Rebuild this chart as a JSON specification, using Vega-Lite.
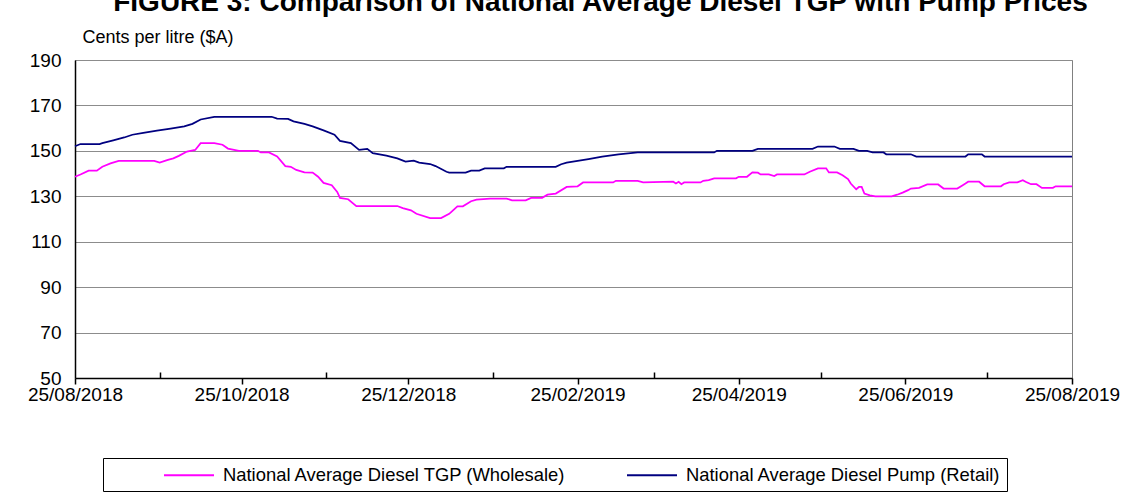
{
  "$schema": "https://vega.github.io/schema/vega-lite/v6.json",
  "width": 997,
  "height": 318,
  "autosize": {"type": "none"},
  "padding": {"left": 75, "top": 60, "right": 59, "bottom": 124},
  "background": "white",
  "config": {
    "view": {"stroke": "#808080", "strokeWidth": 1},
    "font": "Liberation Sans"
  },
  "title": {
    "text": "FIGURE 3: Comparison of National Average Diesel TGP with Pump Prices",
    "font": "Liberation Sans",
    "fontSize": 28,
    "fontWeight": "bold",
    "color": "black",
    "anchor": "middle",
    "frame": "group",
    "baseline": "alphabetic",
    "offset": 4,
    "dx": 27,
    "dy": 15
  },
  "datasets": {
    "prices": [
      {"date": "2018-08-25", "series": "National Average Diesel Pump (Retail)", "price": 152},
      {"date": "2018-08-27", "series": "National Average Diesel Pump (Retail)", "price": 153},
      {"date": "2018-09-03", "series": "National Average Diesel Pump (Retail)", "price": 153},
      {"date": "2018-09-04", "series": "National Average Diesel Pump (Retail)", "price": 153.4},
      {"date": "2018-09-08", "series": "National Average Diesel Pump (Retail)", "price": 154.6},
      {"date": "2018-09-12", "series": "National Average Diesel Pump (Retail)", "price": 155.9},
      {"date": "2018-09-15", "series": "National Average Diesel Pump (Retail)", "price": 157.1},
      {"date": "2018-09-19", "series": "National Average Diesel Pump (Retail)", "price": 157.9},
      {"date": "2018-09-24", "series": "National Average Diesel Pump (Retail)", "price": 158.9},
      {"date": "2018-09-29", "series": "National Average Diesel Pump (Retail)", "price": 159.8},
      {"date": "2018-10-04", "series": "National Average Diesel Pump (Retail)", "price": 160.8},
      {"date": "2018-10-07", "series": "National Average Diesel Pump (Retail)", "price": 161.9},
      {"date": "2018-10-10", "series": "National Average Diesel Pump (Retail)", "price": 163.8},
      {"date": "2018-10-15", "series": "National Average Diesel Pump (Retail)", "price": 165},
      {"date": "2018-11-05", "series": "National Average Diesel Pump (Retail)", "price": 165},
      {"date": "2018-11-07", "series": "National Average Diesel Pump (Retail)", "price": 164.2},
      {"date": "2018-11-11", "series": "National Average Diesel Pump (Retail)", "price": 164.1},
      {"date": "2018-11-13", "series": "National Average Diesel Pump (Retail)", "price": 163},
      {"date": "2018-11-17", "series": "National Average Diesel Pump (Retail)", "price": 161.9},
      {"date": "2018-11-20", "series": "National Average Diesel Pump (Retail)", "price": 160.8},
      {"date": "2018-11-24", "series": "National Average Diesel Pump (Retail)", "price": 159},
      {"date": "2018-11-28", "series": "National Average Diesel Pump (Retail)", "price": 157.1},
      {"date": "2018-11-30", "series": "National Average Diesel Pump (Retail)", "price": 154.4},
      {"date": "2018-12-04", "series": "National Average Diesel Pump (Retail)", "price": 153.4},
      {"date": "2018-12-07", "series": "National Average Diesel Pump (Retail)", "price": 150.4},
      {"date": "2018-12-10", "series": "National Average Diesel Pump (Retail)", "price": 150.9},
      {"date": "2018-12-12", "series": "National Average Diesel Pump (Retail)", "price": 149},
      {"date": "2018-12-17", "series": "National Average Diesel Pump (Retail)", "price": 147.9},
      {"date": "2018-12-21", "series": "National Average Diesel Pump (Retail)", "price": 146.7},
      {"date": "2018-12-24", "series": "National Average Diesel Pump (Retail)", "price": 145.3},
      {"date": "2018-12-27", "series": "National Average Diesel Pump (Retail)", "price": 145.7},
      {"date": "2018-12-29", "series": "National Average Diesel Pump (Retail)", "price": 144.8},
      {"date": "2019-01-02", "series": "National Average Diesel Pump (Retail)", "price": 144.2},
      {"date": "2019-01-04", "series": "National Average Diesel Pump (Retail)", "price": 143.3},
      {"date": "2019-01-08", "series": "National Average Diesel Pump (Retail)", "price": 140.8},
      {"date": "2019-01-09", "series": "National Average Diesel Pump (Retail)", "price": 140.4},
      {"date": "2019-01-15", "series": "National Average Diesel Pump (Retail)", "price": 140.4},
      {"date": "2019-01-17", "series": "National Average Diesel Pump (Retail)", "price": 141.3},
      {"date": "2019-01-20", "series": "National Average Diesel Pump (Retail)", "price": 141.3},
      {"date": "2019-01-22", "series": "National Average Diesel Pump (Retail)", "price": 142.3},
      {"date": "2019-01-29", "series": "National Average Diesel Pump (Retail)", "price": 142.3},
      {"date": "2019-01-30", "series": "National Average Diesel Pump (Retail)", "price": 143},
      {"date": "2019-02-17", "series": "National Average Diesel Pump (Retail)", "price": 143},
      {"date": "2019-02-19", "series": "National Average Diesel Pump (Retail)", "price": 144.1},
      {"date": "2019-02-21", "series": "National Average Diesel Pump (Retail)", "price": 144.8},
      {"date": "2019-02-25", "series": "National Average Diesel Pump (Retail)", "price": 145.6},
      {"date": "2019-03-01", "series": "National Average Diesel Pump (Retail)", "price": 146.4},
      {"date": "2019-03-06", "series": "National Average Diesel Pump (Retail)", "price": 147.5},
      {"date": "2019-03-12", "series": "National Average Diesel Pump (Retail)", "price": 148.5},
      {"date": "2019-03-19", "series": "National Average Diesel Pump (Retail)", "price": 149.3},
      {"date": "2019-04-16", "series": "National Average Diesel Pump (Retail)", "price": 149.3},
      {"date": "2019-04-17", "series": "National Average Diesel Pump (Retail)", "price": 150},
      {"date": "2019-04-30", "series": "National Average Diesel Pump (Retail)", "price": 150},
      {"date": "2019-05-02", "series": "National Average Diesel Pump (Retail)", "price": 150.9},
      {"date": "2019-05-22", "series": "National Average Diesel Pump (Retail)", "price": 150.9},
      {"date": "2019-05-24", "series": "National Average Diesel Pump (Retail)", "price": 151.9},
      {"date": "2019-05-30", "series": "National Average Diesel Pump (Retail)", "price": 151.9},
      {"date": "2019-06-01", "series": "National Average Diesel Pump (Retail)", "price": 150.9},
      {"date": "2019-06-06", "series": "National Average Diesel Pump (Retail)", "price": 150.9},
      {"date": "2019-06-08", "series": "National Average Diesel Pump (Retail)", "price": 150},
      {"date": "2019-06-11", "series": "National Average Diesel Pump (Retail)", "price": 150},
      {"date": "2019-06-13", "series": "National Average Diesel Pump (Retail)", "price": 149.3},
      {"date": "2019-06-17", "series": "National Average Diesel Pump (Retail)", "price": 149.3},
      {"date": "2019-06-18", "series": "National Average Diesel Pump (Retail)", "price": 148.5},
      {"date": "2019-06-27", "series": "National Average Diesel Pump (Retail)", "price": 148.5},
      {"date": "2019-06-29", "series": "National Average Diesel Pump (Retail)", "price": 147.5},
      {"date": "2019-07-17", "series": "National Average Diesel Pump (Retail)", "price": 147.5},
      {"date": "2019-07-18", "series": "National Average Diesel Pump (Retail)", "price": 148.5},
      {"date": "2019-07-23", "series": "National Average Diesel Pump (Retail)", "price": 148.5},
      {"date": "2019-07-24", "series": "National Average Diesel Pump (Retail)", "price": 147.5},
      {"date": "2019-08-25", "series": "National Average Diesel Pump (Retail)", "price": 147.5},
      {"date": "2018-08-25", "series": "National Average Diesel TGP (Wholesale)", "price": 138.6},
      {"date": "2018-08-27", "series": "National Average Diesel TGP (Wholesale)", "price": 139.6},
      {"date": "2018-08-30", "series": "National Average Diesel TGP (Wholesale)", "price": 141.3},
      {"date": "2018-09-02", "series": "National Average Diesel TGP (Wholesale)", "price": 141.3},
      {"date": "2018-09-04", "series": "National Average Diesel TGP (Wholesale)", "price": 143},
      {"date": "2018-09-07", "series": "National Average Diesel TGP (Wholesale)", "price": 144.5},
      {"date": "2018-09-10", "series": "National Average Diesel TGP (Wholesale)", "price": 145.6},
      {"date": "2018-09-23", "series": "National Average Diesel TGP (Wholesale)", "price": 145.6},
      {"date": "2018-09-25", "series": "National Average Diesel TGP (Wholesale)", "price": 144.8},
      {"date": "2018-09-28", "series": "National Average Diesel TGP (Wholesale)", "price": 146},
      {"date": "2018-09-30", "series": "National Average Diesel TGP (Wholesale)", "price": 146.7},
      {"date": "2018-10-02", "series": "National Average Diesel TGP (Wholesale)", "price": 147.8},
      {"date": "2018-10-05", "series": "National Average Diesel TGP (Wholesale)", "price": 149.7},
      {"date": "2018-10-08", "series": "National Average Diesel TGP (Wholesale)", "price": 150.4},
      {"date": "2018-10-10", "series": "National Average Diesel TGP (Wholesale)", "price": 153.4},
      {"date": "2018-10-15", "series": "National Average Diesel TGP (Wholesale)", "price": 153.4},
      {"date": "2018-10-18", "series": "National Average Diesel TGP (Wholesale)", "price": 152.7},
      {"date": "2018-10-20", "series": "National Average Diesel TGP (Wholesale)", "price": 151},
      {"date": "2018-10-24", "series": "National Average Diesel TGP (Wholesale)", "price": 150},
      {"date": "2018-10-31", "series": "National Average Diesel TGP (Wholesale)", "price": 150},
      {"date": "2018-11-01", "series": "National Average Diesel TGP (Wholesale)", "price": 149.3},
      {"date": "2018-11-04", "series": "National Average Diesel TGP (Wholesale)", "price": 149.3},
      {"date": "2018-11-07", "series": "National Average Diesel TGP (Wholesale)", "price": 147.5},
      {"date": "2018-11-10", "series": "National Average Diesel TGP (Wholesale)", "price": 143.3},
      {"date": "2018-11-12", "series": "National Average Diesel TGP (Wholesale)", "price": 143},
      {"date": "2018-11-14", "series": "National Average Diesel TGP (Wholesale)", "price": 141.6},
      {"date": "2018-11-17", "series": "National Average Diesel TGP (Wholesale)", "price": 140.5},
      {"date": "2018-11-20", "series": "National Average Diesel TGP (Wholesale)", "price": 140.4},
      {"date": "2018-11-22", "series": "National Average Diesel TGP (Wholesale)", "price": 138.6},
      {"date": "2018-11-24", "series": "National Average Diesel TGP (Wholesale)", "price": 135.9},
      {"date": "2018-11-27", "series": "National Average Diesel TGP (Wholesale)", "price": 134.9},
      {"date": "2018-11-29", "series": "National Average Diesel TGP (Wholesale)", "price": 131.9},
      {"date": "2018-11-30", "series": "National Average Diesel TGP (Wholesale)", "price": 129.3},
      {"date": "2018-12-03", "series": "National Average Diesel TGP (Wholesale)", "price": 128.7},
      {"date": "2018-12-06", "series": "National Average Diesel TGP (Wholesale)", "price": 125.7},
      {"date": "2018-12-21", "series": "National Average Diesel TGP (Wholesale)", "price": 125.7},
      {"date": "2018-12-23", "series": "National Average Diesel TGP (Wholesale)", "price": 124.8},
      {"date": "2018-12-26", "series": "National Average Diesel TGP (Wholesale)", "price": 123.8},
      {"date": "2018-12-28", "series": "National Average Diesel TGP (Wholesale)", "price": 122.3},
      {"date": "2019-01-02", "series": "National Average Diesel TGP (Wholesale)", "price": 120.4},
      {"date": "2019-01-06", "series": "National Average Diesel TGP (Wholesale)", "price": 120.4},
      {"date": "2019-01-09", "series": "National Average Diesel TGP (Wholesale)", "price": 122.3},
      {"date": "2019-01-12", "series": "National Average Diesel TGP (Wholesale)", "price": 125.6},
      {"date": "2019-01-14", "series": "National Average Diesel TGP (Wholesale)", "price": 125.6},
      {"date": "2019-01-17", "series": "National Average Diesel TGP (Wholesale)", "price": 127.8},
      {"date": "2019-01-19", "series": "National Average Diesel TGP (Wholesale)", "price": 128.5},
      {"date": "2019-01-24", "series": "National Average Diesel TGP (Wholesale)", "price": 129},
      {"date": "2019-01-30", "series": "National Average Diesel TGP (Wholesale)", "price": 129},
      {"date": "2019-02-01", "series": "National Average Diesel TGP (Wholesale)", "price": 128.2},
      {"date": "2019-02-06", "series": "National Average Diesel TGP (Wholesale)", "price": 128.2},
      {"date": "2019-02-08", "series": "National Average Diesel TGP (Wholesale)", "price": 129.3},
      {"date": "2019-02-12", "series": "National Average Diesel TGP (Wholesale)", "price": 129.3},
      {"date": "2019-02-14", "series": "National Average Diesel TGP (Wholesale)", "price": 130.7},
      {"date": "2019-02-17", "series": "National Average Diesel TGP (Wholesale)", "price": 131.2},
      {"date": "2019-02-21", "series": "National Average Diesel TGP (Wholesale)", "price": 134.1},
      {"date": "2019-02-25", "series": "National Average Diesel TGP (Wholesale)", "price": 134.4},
      {"date": "2019-02-27", "series": "National Average Diesel TGP (Wholesale)", "price": 136.1},
      {"date": "2019-03-10", "series": "National Average Diesel TGP (Wholesale)", "price": 136.1},
      {"date": "2019-03-11", "series": "National Average Diesel TGP (Wholesale)", "price": 136.8},
      {"date": "2019-03-19", "series": "National Average Diesel TGP (Wholesale)", "price": 136.8},
      {"date": "2019-03-21", "series": "National Average Diesel TGP (Wholesale)", "price": 136.1},
      {"date": "2019-04-01", "series": "National Average Diesel TGP (Wholesale)", "price": 136.4},
      {"date": "2019-04-02", "series": "National Average Diesel TGP (Wholesale)", "price": 135.6},
      {"date": "2019-04-03", "series": "National Average Diesel TGP (Wholesale)", "price": 136.4},
      {"date": "2019-04-04", "series": "National Average Diesel TGP (Wholesale)", "price": 135.3},
      {"date": "2019-04-05", "series": "National Average Diesel TGP (Wholesale)", "price": 136.1},
      {"date": "2019-04-11", "series": "National Average Diesel TGP (Wholesale)", "price": 136.1},
      {"date": "2019-04-12", "series": "National Average Diesel TGP (Wholesale)", "price": 136.8},
      {"date": "2019-04-14", "series": "National Average Diesel TGP (Wholesale)", "price": 137.1},
      {"date": "2019-04-16", "series": "National Average Diesel TGP (Wholesale)", "price": 137.9},
      {"date": "2019-04-24", "series": "National Average Diesel TGP (Wholesale)", "price": 137.9},
      {"date": "2019-04-25", "series": "National Average Diesel TGP (Wholesale)", "price": 138.6},
      {"date": "2019-04-28", "series": "National Average Diesel TGP (Wholesale)", "price": 138.6},
      {"date": "2019-04-30", "series": "National Average Diesel TGP (Wholesale)", "price": 140.5},
      {"date": "2019-05-02", "series": "National Average Diesel TGP (Wholesale)", "price": 140.4},
      {"date": "2019-05-03", "series": "National Average Diesel TGP (Wholesale)", "price": 139.6},
      {"date": "2019-05-06", "series": "National Average Diesel TGP (Wholesale)", "price": 139.6},
      {"date": "2019-05-08", "series": "National Average Diesel TGP (Wholesale)", "price": 138.9},
      {"date": "2019-05-09", "series": "National Average Diesel TGP (Wholesale)", "price": 139.6},
      {"date": "2019-05-19", "series": "National Average Diesel TGP (Wholesale)", "price": 139.6},
      {"date": "2019-05-21", "series": "National Average Diesel TGP (Wholesale)", "price": 140.8},
      {"date": "2019-05-24", "series": "National Average Diesel TGP (Wholesale)", "price": 142.3},
      {"date": "2019-05-27", "series": "National Average Diesel TGP (Wholesale)", "price": 142.3},
      {"date": "2019-05-28", "series": "National Average Diesel TGP (Wholesale)", "price": 140.5},
      {"date": "2019-05-31", "series": "National Average Diesel TGP (Wholesale)", "price": 140.5},
      {"date": "2019-06-02", "series": "National Average Diesel TGP (Wholesale)", "price": 139.3},
      {"date": "2019-06-04", "series": "National Average Diesel TGP (Wholesale)", "price": 137.6},
      {"date": "2019-06-05", "series": "National Average Diesel TGP (Wholesale)", "price": 135.6},
      {"date": "2019-06-07", "series": "National Average Diesel TGP (Wholesale)", "price": 133.1},
      {"date": "2019-06-08", "series": "National Average Diesel TGP (Wholesale)", "price": 134.1},
      {"date": "2019-06-09", "series": "National Average Diesel TGP (Wholesale)", "price": 134.1},
      {"date": "2019-06-10", "series": "National Average Diesel TGP (Wholesale)", "price": 131.2},
      {"date": "2019-06-12", "series": "National Average Diesel TGP (Wholesale)", "price": 130.4},
      {"date": "2019-06-14", "series": "National Average Diesel TGP (Wholesale)", "price": 130},
      {"date": "2019-06-20", "series": "National Average Diesel TGP (Wholesale)", "price": 130},
      {"date": "2019-06-22", "series": "National Average Diesel TGP (Wholesale)", "price": 130.7},
      {"date": "2019-06-24", "series": "National Average Diesel TGP (Wholesale)", "price": 131.6},
      {"date": "2019-06-26", "series": "National Average Diesel TGP (Wholesale)", "price": 132.7},
      {"date": "2019-06-27", "series": "National Average Diesel TGP (Wholesale)", "price": 133.4},
      {"date": "2019-06-30", "series": "National Average Diesel TGP (Wholesale)", "price": 133.7},
      {"date": "2019-07-03", "series": "National Average Diesel TGP (Wholesale)", "price": 135.2},
      {"date": "2019-07-07", "series": "National Average Diesel TGP (Wholesale)", "price": 135.2},
      {"date": "2019-07-09", "series": "National Average Diesel TGP (Wholesale)", "price": 133.4},
      {"date": "2019-07-14", "series": "National Average Diesel TGP (Wholesale)", "price": 133.4},
      {"date": "2019-07-16", "series": "National Average Diesel TGP (Wholesale)", "price": 134.9},
      {"date": "2019-07-17", "series": "National Average Diesel TGP (Wholesale)", "price": 135.6},
      {"date": "2019-07-18", "series": "National Average Diesel TGP (Wholesale)", "price": 136.4},
      {"date": "2019-07-22", "series": "National Average Diesel TGP (Wholesale)", "price": 136.4},
      {"date": "2019-07-24", "series": "National Average Diesel TGP (Wholesale)", "price": 134.4},
      {"date": "2019-07-30", "series": "National Average Diesel TGP (Wholesale)", "price": 134.4},
      {"date": "2019-07-31", "series": "National Average Diesel TGP (Wholesale)", "price": 135.3},
      {"date": "2019-08-02", "series": "National Average Diesel TGP (Wholesale)", "price": 136.1},
      {"date": "2019-08-05", "series": "National Average Diesel TGP (Wholesale)", "price": 136.1},
      {"date": "2019-08-07", "series": "National Average Diesel TGP (Wholesale)", "price": 137.1},
      {"date": "2019-08-08", "series": "National Average Diesel TGP (Wholesale)", "price": 136.4},
      {"date": "2019-08-10", "series": "National Average Diesel TGP (Wholesale)", "price": 135.3},
      {"date": "2019-08-12", "series": "National Average Diesel TGP (Wholesale)", "price": 135.3},
      {"date": "2019-08-14", "series": "National Average Diesel TGP (Wholesale)", "price": 133.7},
      {"date": "2019-08-18", "series": "National Average Diesel TGP (Wholesale)", "price": 133.7},
      {"date": "2019-08-19", "series": "National Average Diesel TGP (Wholesale)", "price": 134.4},
      {"date": "2019-08-25", "series": "National Average Diesel TGP (Wholesale)", "price": 134.4}
    ]
  },
  "data": {"name": "prices"},
  "mark": {"type": "line", "strokeWidth": 1.75, "interpolate": "linear"},
  "encoding": {
    "x": {
      "field": "date",
      "type": "temporal",
      "scale": {
        "type": "utc",
        "domain": [
          {"year": 2018, "month": 8, "date": 25, "utc": true},
          {"year": 2019, "month": 8, "date": 25, "utc": true}
        ]
      },
      "axis": {
        "title": null,
        "values": [
          {"year": 2018, "month": 8, "date": 25, "utc": true},
          {"year": 2018, "month": 9, "date": 25, "utc": true},
          {"year": 2018, "month": 10, "date": 25, "utc": true},
          {"year": 2018, "month": 11, "date": 25, "utc": true},
          {"year": 2018, "month": 12, "date": 25, "utc": true},
          {"year": 2019, "month": 1, "date": 25, "utc": true},
          {"year": 2019, "month": 2, "date": 25, "utc": true},
          {"year": 2019, "month": 3, "date": 25, "utc": true},
          {"year": 2019, "month": 4, "date": 25, "utc": true},
          {"year": 2019, "month": 5, "date": 25, "utc": true},
          {"year": 2019, "month": 6, "date": 25, "utc": true},
          {"year": 2019, "month": 7, "date": 25, "utc": true},
          {"year": 2019, "month": 8, "date": 25, "utc": true}
        ],
        "format": "%d/%m/%Y",
        "labelExpr": "utcmonth(datum.value) % 2 == 1 ? datum.label : ''",
        "labelFont": "Liberation Sans",
        "labelFontSize": 19,
        "labelColor": "black",
        "labelOverlap": false,
        "labelFlush": false,
        "labelPadding": 1,
        "tickColor": "black",
        "tickWidth": 1.5,
        "tickSize": {"condition": {"test": "utcmonth(datum.value) % 2 == 1", "value": 6}, "value": -6},
        "domainColor": "black",
        "domainWidth": 1.5,
        "grid": false
      }
    },
    "y": {
      "field": "price",
      "type": "quantitative",
      "scale": {"domain": [50, 190], "nice": false, "zero": false},
      "axis": {
        "values": [50, 70, 90, 110, 130, 150, 170, 190],
        "title": "Cents per litre ($A)",
        "titleAngle": 0,
        "titleAlign": "left",
        "titleBaseline": "middle",
        "titleX": 7,
        "titleY": -23,
        "titleFont": "Liberation Sans",
        "titleFontSize": 18,
        "titleFontWeight": "normal",
        "titleColor": "black",
        "labelFont": "Liberation Sans",
        "labelFontSize": 19,
        "labelColor": "black",
        "labelPadding": 14,
        "ticks": false,
        "domainColor": "black",
        "domainWidth": 1.5,
        "grid": true,
        "gridColor": "#8c8c8c",
        "gridWidth": 1
      }
    },
    "color": {
      "field": "series",
      "type": "nominal",
      "scale": {
        "domain": ["National Average Diesel TGP (Wholesale)", "National Average Diesel Pump (Retail)"],
        "range": ["#ff00ff", "#000080"]
      },
      "legend": {
        "orient": "none",
        "legendX": 28,
        "legendY": 398,
        "direction": "horizontal",
        "columns": 2,
        "gridAlign": "all",
        "title": null,
        "symbolType": "M-2.5,0L2.5,0",
        "symbolSize": 400,
        "symbolStrokeWidth": 2,
        "labelFont": "Liberation Sans",
        "labelFontSize": 18.4,
        "labelColor": "black",
        "labelLimit": 0,
        "labelOffset": 23,
        "columnPadding": 5,
        "symbolOffset": 69,
        "strokeColor": "black",
        "padding": 6
      }
    }
  }
}
